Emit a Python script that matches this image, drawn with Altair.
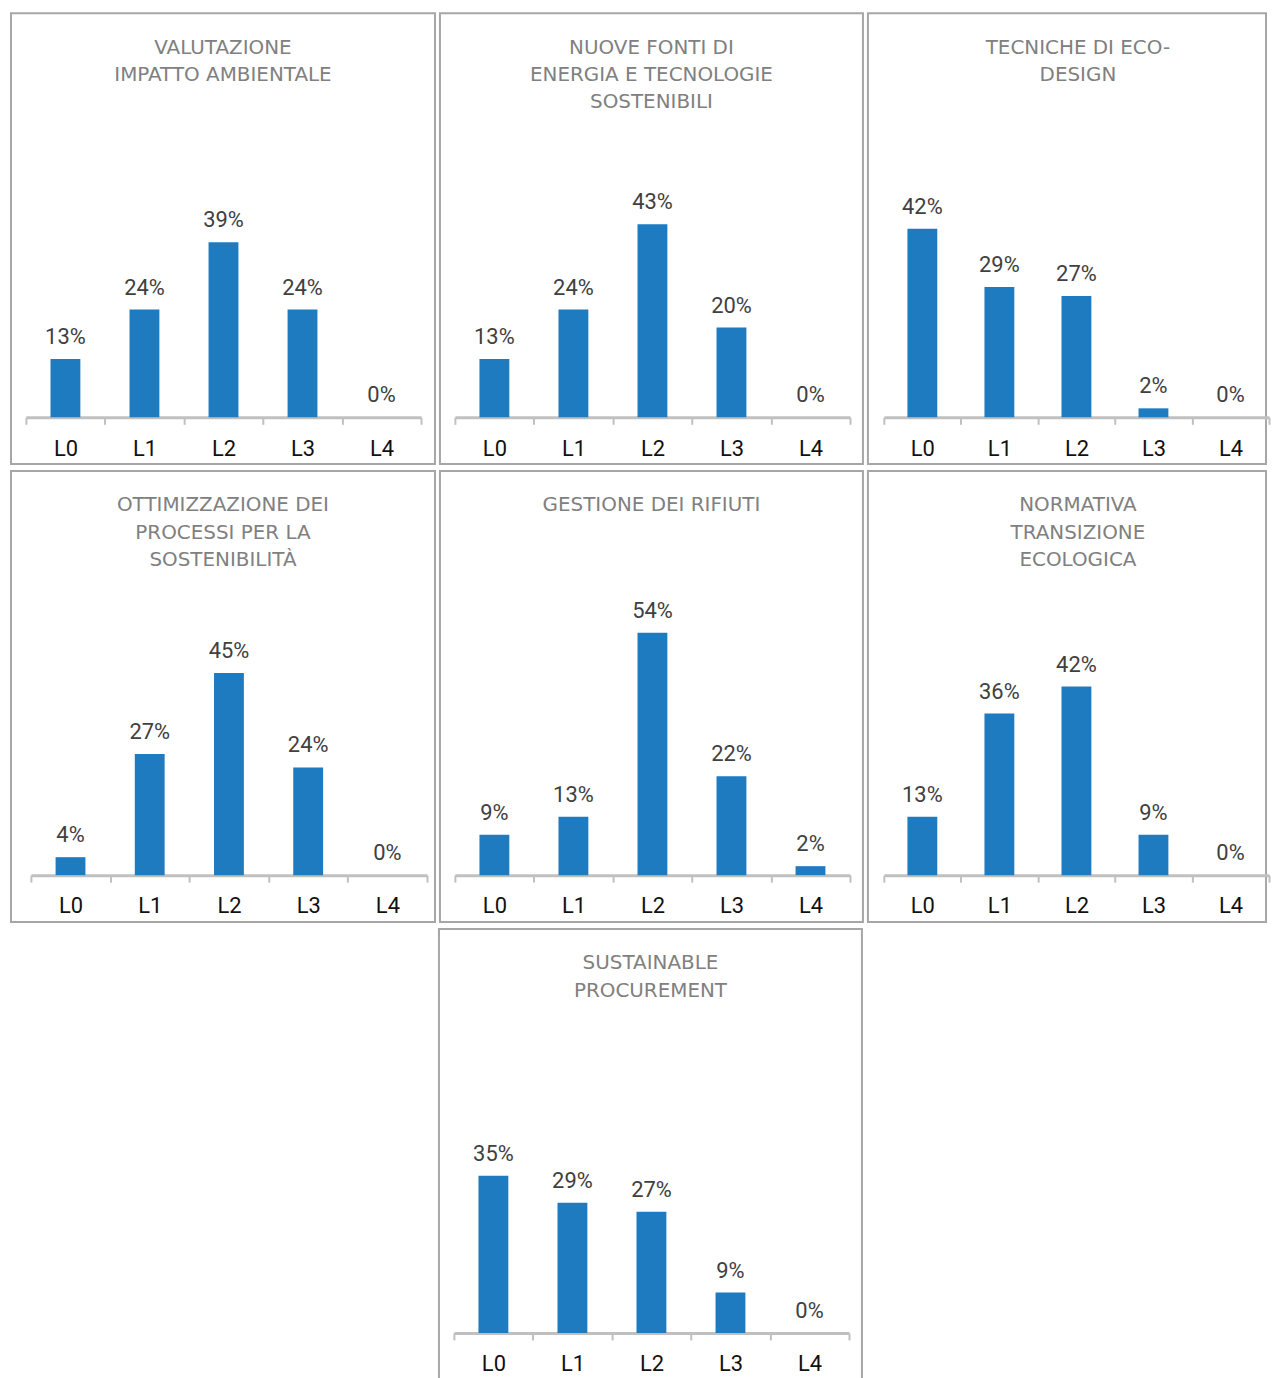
import altair as alt
import pandas as pd

levels = ["L0", "L1", "L2", "L3", "L4"]

titles = [
    ["VALUTAZIONE", "IMPATTO AMBIENTALE"],
    ["NUOVE FONTI DI", "ENERGIA E TECNOLOGIE", "SOSTENIBILI"],
    ["TECNICHE DI ECO-", "DESIGN"],
    ["OTTIMIZZAZIONE DEI", "PROCESSI PER LA", "SOSTENIBILITÀ"],
    ["GESTIONE DEI RIFIUTI"],
    ["NORMATIVA", "TRANSIZIONE", "ECOLOGICA"],
    ["SUSTAINABLE", "PROCUREMENT"],
]

values = [
    [13, 24, 39, 24, 0],
    [13, 24, 43, 20, 0],
    [42, 29, 27, 2, 0],
    [4, 27, 45, 24, 0],
    [9, 13, 54, 22, 2],
    [13, 36, 42, 9, 0],
    [35, 29, 27, 9, 0],
]

H = 453
BASE = 406
FONT = "Roboto, Liberation Sans, sans-serif"
BAR = "#1f7bc0"
BORDER = "#a6a6a6"
LINE_H = 27.5


def panel(title_lines, vals, width=426, xrange=(15, 412), dx=0):
    df = pd.DataFrame({
        "level": levels,
        "pct": vals,
        "label": [f"{v}%" for v in vals],
    })
    base = alt.Chart(df).encode(
        x=alt.X(
            "level:N",
            sort=levels,
            scale=alt.Scale(range=list(xrange), paddingInner=0, paddingOuter=0),
            axis=alt.Axis(
                title=None,
                orient="bottom",
                offset=-(H - BASE),
                labelAngle=0,
                labelFont=FONT,
                labelFontSize=22,
                labelColor="#111111",
                labelPadding=14,
                domainColor="#c0c0c0",
                domainWidth=3,
                tickColor="#c0c0c0",
                tickWidth=2,
                tickSize=7,
                tickBand="extent",
                grid=False,
            ),
        ),
        y=alt.Y(
            "pct:Q",
            scale=alt.Scale(domain=[0, 90], range=[BASE, 0], nice=False, zero=True),
            axis=None,
        ),
    )
    bars = base.mark_bar(size=30, color=BAR)
    text = base.mark_text(
        baseline="alphabetic", dy=-15, font=FONT, fontSize=22, color="#404040"
    ).encode(text="label:N")
    n = len(title_lines)
    return alt.layer(bars, text).properties(
        width=width,
        height=H,
        title=alt.TitleParams(
            text=title_lines,
            anchor="middle",
            baseline="top",
            offset=-(44.5 + LINE_H * (n - 1)),
            dx=dx,
            font="DejaVu Sans",
            fontSize=20,
            fontWeight="normal",
            color="#808080",
            lineHeight=LINE_H,
        ),
        view=alt.ViewBackground(stroke=BORDER, strokeWidth=2),
    )


p = [
    panel(titles[0], values[0], 426),
    panel(titles[1], values[1], 425),
    panel(titles[2], values[2], 400, (16, 403), dx=11),
    panel(titles[3], values[3], 426, (20, 418)),
    panel(titles[4], values[4], 425),
    panel(titles[5], values[5], 400, (16, 403), dx=11),
    panel(titles[6], values[6], 425),
]

blank = alt.Chart(pd.DataFrame({"a": [0]})).mark_point(opacity=0).encode(
    x=alt.value(200), y=alt.value(200)
).properties(width=426, height=H, view=alt.ViewBackground(strokeWidth=0, stroke="#ffffff"))

row1 = alt.hconcat(p[0], p[1], p[2], spacing=3)
row2 = alt.hconcat(p[3], p[4], p[5], spacing=3)
row3 = alt.hconcat(blank, p[6], spacing=3)

chart = alt.vconcat(row1, row2, row3, spacing=5).properties(
    padding={"left": 2, "top": 1, "right": 0, "bottom": 0},
    background="#ffffff",
)

chart.save("out.html", embed_options={"renderer": "svg", "actions": False})
